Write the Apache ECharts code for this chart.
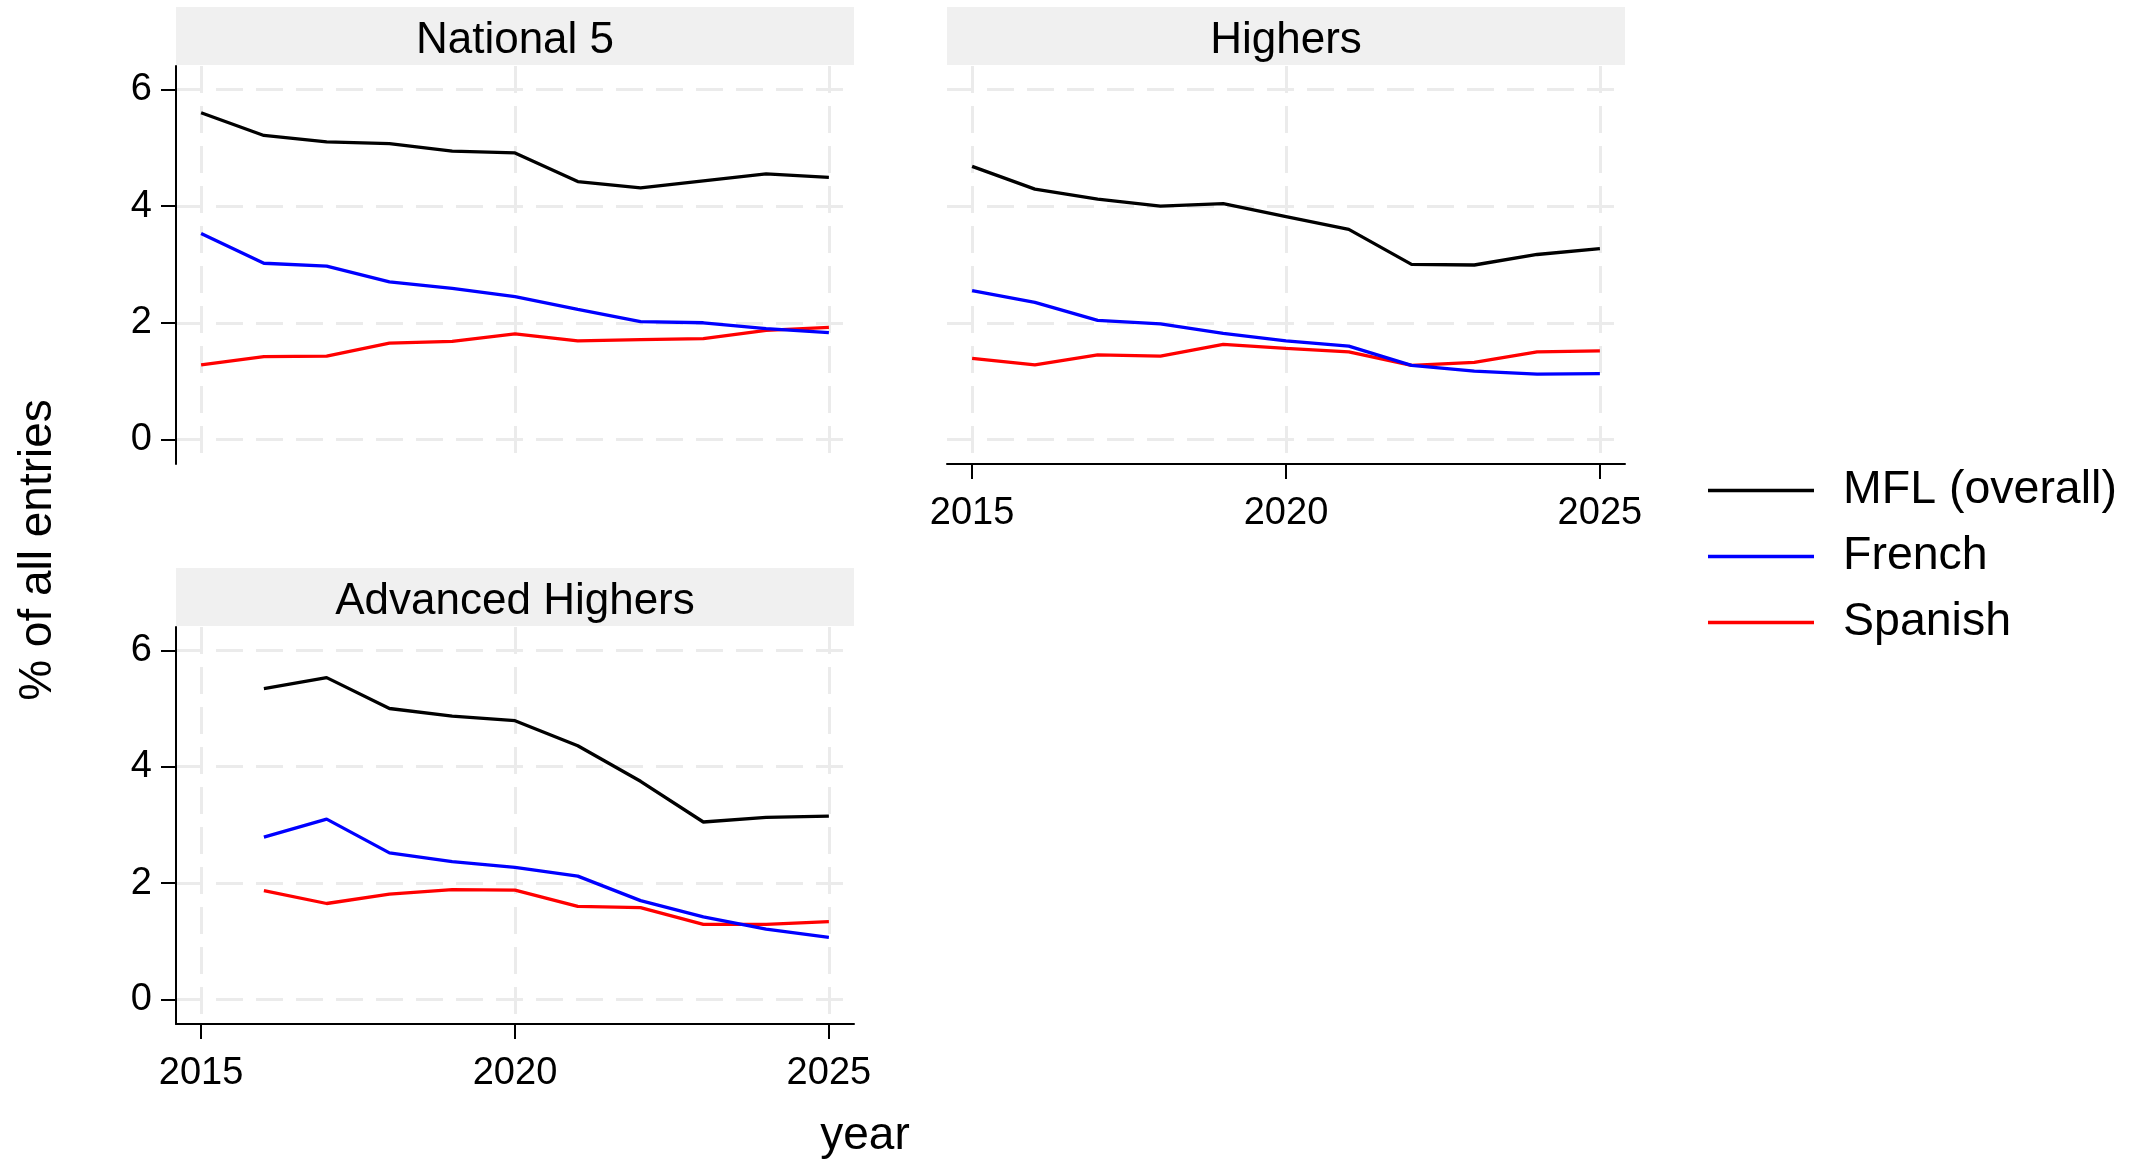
<!DOCTYPE html>
<html>
<head>
<meta charset="utf-8">
<script src="https://cdn.jsdelivr.net/npm/echarts@6/dist/echarts.min.js"></script>
<style>
html,body{margin:0;padding:0;background:#fff;}
#chart{width:2139px;height:1160px;}
</style>
</head>
<body>
<div id="chart"></div>
<script>
// ---- data ----
const years = [2015, 2016, 2017, 2018, 2019, 2020, 2021, 2022, 2023, 2024, 2025];
const panels = ['National 5', 'Highers', 'Advanced Highers'];
const seriesNames = ['MFL (overall)', 'French', 'Spanish'];
const xTicks = [2015, 2020, 2025];
const yTicks = [0, 2, 4, 6];

const n5_mfl     = [5.60, 5.21, 5.10, 5.07, 4.94, 4.91, 4.42, 4.31, 4.43, 4.55, 4.49];
const n5_french  = [3.53, 3.02, 2.97, 2.70, 2.59, 2.45, 2.23, 2.02, 2.00, 1.90, 1.83];
const n5_spanish = [1.28, 1.42, 1.43, 1.65, 1.68, 1.81, 1.69, 1.71, 1.73, 1.87, 1.92];

const h_mfl      = [4.68, 4.29, 4.12, 4.00, 4.04, 3.82, 3.60, 3.00, 2.99, 3.17, 3.27];
const h_french   = [2.55, 2.35, 2.04, 1.98, 1.82, 1.69, 1.60, 1.27, 1.17, 1.12, 1.13];
const h_spanish  = [1.39, 1.28, 1.45, 1.43, 1.63, 1.56, 1.50, 1.27, 1.32, 1.50, 1.52];

const ah_mfl     = [null, 5.34, 5.53, 5.00, 4.87, 4.79, 4.36, 3.75, 3.05, 3.13, 3.15];
const ah_french  = [null, 2.79, 3.10, 2.52, 2.37, 2.27, 2.12, 1.70, 1.42, 1.21, 1.07];
const ah_spanish = [null, 1.87, 1.65, 1.81, 1.89, 1.88, 1.60, 1.58, 1.29, 1.29, 1.34];

const panelData = [
  [n5_mfl, n5_french, n5_spanish],
  [h_mfl, h_french, h_spanish],
  [ah_mfl, ah_french, ah_spanish]
];
const colors = ['#000000', '#0000ff', '#ff0000'];

// ---- layout ----
const FONT = "'Liberation Sans', Arial, Helvetica, sans-serif";
const grids = [
  {left: 176, top: 66, width: 678, height: 398},
  {left: 947, top: 66, width: 678, height: 398},
  {left: 176, top: 627, width: 678, height: 397}
];
const stripH = 58;

const gridLine = {show: true, lineStyle: {color: '#ebebeb', width: 3, type: [27, 13]}};

function makeX(i, showAxis) {
  return {
    type: 'value', gridIndex: i, min: 2014.6, max: 2025.4,
    axisLine: {show: showAxis, onZero: false, lineStyle: {color: '#000', width: 2}},
    axisTick: {show: showAxis, length: 15, lineStyle: {color: '#000', width: 2}, customValues: xTicks},
    axisLabel: {show: showAxis, customValues: xTicks, margin: 31, color: '#000',
      fontSize: 38, lineHeight: 38, fontFamily: FONT, formatter: v => String(v)},
    splitLine: gridLine
  };
}
function makeY(i, showAxis) {
  return {
    type: 'value', gridIndex: i, min: -0.42, max: 6.4,
    axisLine: {show: showAxis, onZero: false, lineStyle: {color: '#000', width: 2}},
    axisTick: {show: showAxis, length: 15, lineStyle: {color: '#000', width: 2}, customValues: yTicks},
    axisLabel: {show: showAxis, customValues: yTicks, margin: 24, color: '#000',
      fontSize: 38, fontFamily: FONT, formatter: v => String(v)},
    splitLine: gridLine
  };
}

const series = [];
panelData.forEach((arrs, p) => {
  arrs.forEach((arr, s) => {
    const pts = [];
    arr.forEach((v, k) => { if (v !== null) pts.push([years[k], v]); });
    series.push({
      type: 'line', name: seriesNames[s], xAxisIndex: p, yAxisIndex: p,
      data: pts, symbol: 'none', showSymbol: false, silent: true,
      color: colors[s],
      itemStyle: {color: colors[s]},
      lineStyle: {color: colors[s], width: 3.3},
      z: 10 - s
    });
  });
});

const graphics = [];
grids.forEach((g, i) => {
  const top = (i === 2) ? 568 : 7;
  graphics.push({
    type: 'rect', left: g.left, top: top, silent: true,
    shape: {width: g.width, height: stripH}, style: {fill: '#f0f0f0'}
  });
  graphics.push({
    type: 'text', x: g.left + g.width / 2, y: top + stripH / 2 + 5, silent: true,
    style: {text: panels[i], fontSize: 44, fontFamily: FONT, fill: '#000',
      align: 'center', verticalAlign: 'middle'}
  });
});
graphics.push({
  type: 'text', x: 38, y: 550, rotation: Math.PI / 2, silent: true,
  style: {text: '% of all entries', fontSize: 46, fontFamily: FONT, fill: '#000',
    align: 'center', verticalAlign: 'middle'}
});
graphics.push({
  type: 'text', x: 865, y: 1136, silent: true,
  style: {text: 'year', fontSize: 46, fontFamily: FONT, fill: '#000',
    align: 'center', verticalAlign: 'middle'}
});

const option = {
  backgroundColor: '#ffffff',
  animation: false,
  grid: grids,
  xAxis: [makeX(0, false), makeX(1, true), makeX(2, true)],
  yAxis: [makeY(0, true), makeY(1, false), makeY(2, true)],
  legend: {
    orient: 'vertical', left: 1703, top: 462,
    icon: 'rect', itemWidth: 106, itemHeight: 3.3, itemGap: 19,
    selectedMode: false,
    data: seriesNames,
    textStyle: {fontSize: 46.5, lineHeight: 46, fontFamily: FONT, color: '#000', padding: [0, 0, 0, 24]}
  },
  graphic: graphics,
  series: series
};

const chart = echarts.init(document.getElementById('chart'), null, {renderer: 'canvas'});
chart.setOption(option);
</script>
</body>
</html>
